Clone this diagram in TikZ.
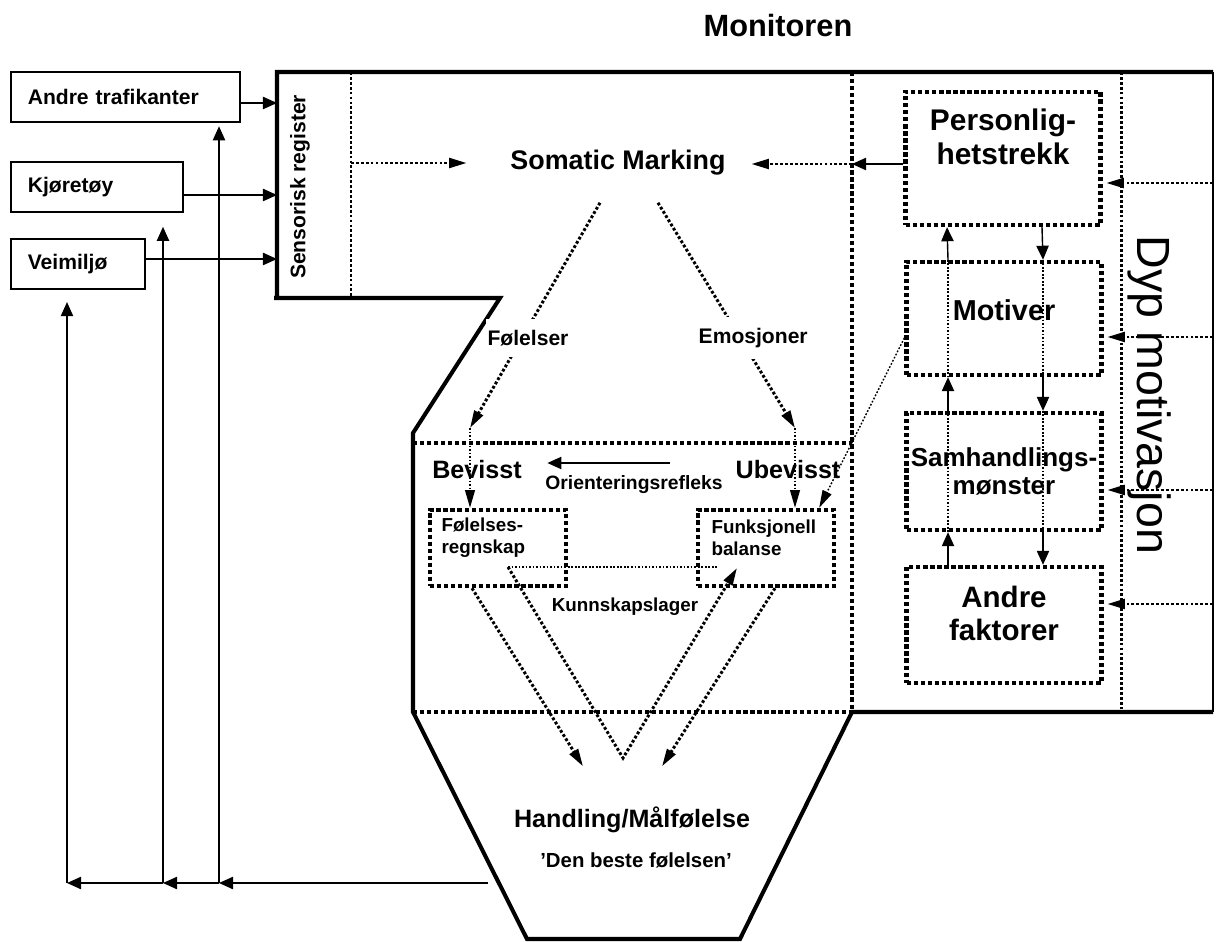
\documentclass[tikz,border=0pt]{standalone}
\usepackage{fontspec}
\setmainfont{Liberation Sans}
\usetikzlibrary{arrows.meta, positioning}

\newcommand\sizept[2]{\fontsize{#1}{#2}\selectfont}

\tikzset{
  outline/.style={line width=2.3pt},
  bigdots/.style={line width=2.5pt, dash pattern=on 2.4pt off 1.6pt},
  middots/.style={line width=1.7pt, dash pattern=on 1.6pt off 1.2pt},
  thindots/.style={line width=1pt, dash pattern=on 1pt off 1pt},
  dotarrow/.style={middots, -{Triangle[length=10pt,width=5.5pt]}},
  thinarrow/.style={thindots, -{Triangle[length=10pt,width=5.5pt]}},
  srcbox/.style={draw, line width=0.9pt, anchor=west, minimum height=1cm,
    inner xsep=0.34cm, align=left, font=\bfseries\sizept{12}{14}},
  dotbox/.style={draw, bigdots, minimum width=3.9cm},
  txt/.style={inner sep=0pt, align=center},
  lblfill/.style={fill=white, inner xsep=1pt, inner ysep=0.22cm,
    font=\bfseries\sizept{12}{14}}
}

\begin{document}
\begin{tikzpicture}[x=0.02cm, y=-0.02cm, >={Triangle[length=8pt,width=7pt]}, line width=0.8pt]
\useasboundingbox (0,0) rectangle (1216,942);

% frame of the model
\draw[outline] (1213,72) -- (277,72) -- (277,298) -- (274,298) -- (500,298) -- (413,433)
  -- (413,712) -- (527,939) -- (740,939) -- (852,712) -- (1213,712);
\draw (1213,72) -- (1213,712);
\draw[middots] (351,72) -- (351,298);
\draw[bigdots] (852,72) -- (852,712);
\draw[bigdots] (413,443) -- (852,443);
\draw[bigdots] (413,712) -- (852,712);
\draw[middots] (1121,72) -- (1121,712);

\node[txt, font=\bfseries\sizept{17.5}{20}] (monitor) at (778,26) {Monitoren};

% inputs
\node[srcbox, text width=3.9cm] (andre) at (10,97) {Andre trafikanter};
\node[srcbox, text width=2.76cm] (kjoretoy) at (10,187) {Kjøretøy};
\node[srcbox, text width=2.0cm] (veimiljo) at (10,264) {Veimiljø};
\node[txt, rotate=90, font=\bfseries\sizept{12}{14}] (sensreg) at (300,187) {Sensorisk register};

\coordinate (in1) at (277,103);
\coordinate (in2) at (277,195);
\coordinate (in3) at (277,259);
\draw[->] (andre.east |- in1) -- (in1);
\draw[->] (kjoretoy.east |- in2) -- (in2);
\draw[->] (veimiljo.east |- in3) -- (in3);

% somatic marking
\node[txt, font=\bfseries\sizept{15.3}{18}] (somatic) at (618,163) {Somatic Marking};
\coordinate (sr-out) at (351,163);
\coordinate (mon-in) at (852,164);
\draw[dotarrow, shorten >=0.86cm] (sr-out) -- (somatic.west);
\draw[dotarrow, shorten >=0.5cm] (mon-in) -- (somatic.east |- mon-in);

\coordinate (fol-in) at (470,428);
\coordinate (emo-in) at (795,428);
\draw[dotarrow] ([xshift=-0.36cm,yshift=-0.53cm]somatic.south)
  -- node[pos=0.6, lblfill, xshift=0.12cm] (folelser) {Følelser} (fol-in);
\draw[dotarrow] ([xshift=0.8cm,yshift=-0.53cm]somatic.south)
  -- node[pos=0.6, lblfill, xshift=0.26cm] (emosjoner) {Emosjoner} (emo-in);

% bevisst / ubevisst
\node[txt, font=\bfseries\sizept{14.3}{17}] (bevisst) at (477,470) {Bevisst};
\node[txt, font=\bfseries\sizept{14.3}{17}] (ubevisst) at (788,470) {Ubevisst};
\draw[->, shorten <=1.3cm, shorten >=0.5cm] ([yshift=0.14cm]ubevisst.west) -- ([yshift=0.14cm]bevisst.east);
\node[txt, font=\bfseries\sizept{11}{13}] (orient) at (634,485) {Orienteringsrefleks};

\node[dotbox, minimum width=2.72cm, minimum height=1.52cm] (folregn) at (498,548) {};
\node[dotbox, minimum width=2.72cm, minimum height=1.52cm] (funk) at (766,548) {};
\node[txt, anchor=west, align=left, font=\bfseries\sizept{10.7}{12.5}] (folregn-t)
  at ([xshift=0.26cm,yshift=0.2cm]folregn.west) {Følelses-\\regnskap};
\node[txt, anchor=west, align=left, font=\bfseries\sizept{10.7}{12.5}] (funk-t)
  at ([xshift=0.3cm,yshift=0.2cm]funk.west) {Funksjonell\\balanse};

\draw[thinarrow] (fol-in) -- (fol-in |- folregn.north);
\draw[thinarrow] (emo-in) -- (emo-in |- funk.north);

% kunnskapslager
\coordinate (kl-a) at (508,567);
\coordinate (kl-b) at (718,567);
\coordinate (kl-v) at (623,758);
\coordinate (kl-c) at (737,568);
\draw[thindots, line width=1.2pt] (kl-a) -- (kl-b);
\draw[dotarrow] (kl-a) -- (kl-v) -- (kl-c);
\node[txt, font=\bfseries\sizept{10.7}{12.5}] (kunnskap) at (625,607) {Kunnskapslager};

% handling
\node[txt, font=\bfseries\sizept{14.3}{17}] (handling) at (632,820) {Handling/Målfølelse};
\node[txt, font=\bfseries\sizept{11.6}{14}] (beste) at (636,860) {’Den beste følelsen’};
\draw[dotarrow] ([xshift=-0.52cm]folregn.south) -- ([xshift=-0.98cm,yshift=0.8cm]handling.north);
\draw[dotarrow] ([xshift=0.18cm]funk.south) -- ([xshift=0.6cm,yshift=0.8cm]handling.north);

% deep motivation
\node[dotbox, minimum height=2.66cm] (pers) at (1003,158.5) {};
\node[dotbox, minimum height=2.26cm] (motiv) at (1004,318.5) {};
\node[dotbox, minimum height=2.34cm] (samh) at (1004,471.5) {};
\node[dotbox, minimum height=2.32cm] (andref) at (1004,625) {};
\node[txt, font=\bfseries\sizept{17}{19}] (pers-t) at ([yshift=0.43cm]pers.center) {Personlig-\\hetstrekk};
\node[txt, font=\bfseries\sizept{16.4}{18}] (motiv-t) at ([yshift=0.17cm]motiv.center) {Motiver};
\node[txt, font=\bfseries\sizept{14.8}{16}] (samh-t) at (samh.center) {Samhandlings-\\mønster};
\node[txt, font=\bfseries\sizept{16.8}{19}] (andref-t) at ([yshift=0.23cm]andref.center) {Andre\\faktorer};
\node[txt, rotate=-90, font=\sizept{26.5}{30}] (dyp) at (1150,395) {Dyp motivasjon};

\draw[->] (pers.west |- mon-in) -- (mon-in);

\draw[thindots] ([xshift=-1.12cm]motiv.north) -- ([xshift=-1.12cm]motiv.south);
\draw[thindots] ([xshift=0.78cm]motiv.north) -- ([xshift=0.78cm]motiv.south);
\draw[thindots] ([xshift=-1.12cm]samh.north) -- ([xshift=-1.12cm]samh.south);
\draw[thindots] ([xshift=0.78cm]samh.north) -- ([xshift=0.78cm]samh.south);
\path[->]
  ([xshift=-1.12cm]motiv.north) edge ([xshift=-1.12cm]pers.south)
  ([xshift=-1.12cm]samh.north) edge ([xshift=-1.12cm]motiv.south)
  ([xshift=-1.12cm]andref.north) edge ([xshift=-1.12cm]samh.south)
  ([xshift=0.78cm]pers.south) edge ([xshift=0.78cm]motiv.north)
  ([xshift=0.78cm]motiv.south) edge ([xshift=0.78cm]samh.north)
  ([xshift=0.78cm]samh.south) edge ([xshift=0.78cm]andref.north);

\coordinate (dm1) at (1213,183);
\coordinate (dm2) at (1213,337);
\coordinate (dm3) at (1213,490);
\coordinate (dm4) at (1213,604);
\draw[dotarrow, shorten >=2pt] (dm1) -- (pers.east |- dm1);
\draw[dotarrow, shorten >=2pt] (dm2) -- (motiv.east |- dm2);
\draw[dotarrow, shorten >=2pt] (dm3) -- (samh.east |- dm3);
\draw[dotarrow, shorten >=2pt] (dm4) -- (andref.east |- dm4);

\draw[thinarrow, line width=0.8pt] ([yshift=-0.39cm]motiv.west) -- ([xshift=-0.34cm]funk.north east);

% feedback to the inputs
\coordinate (fb0) at (488,883);
\coordinate (fb1) at (219,883);
\coordinate (fb2) at (163,883);
\coordinate (fb3) at (67,883);
\path[->]
  (fb0) edge (fb1)
  (fb1) edge (fb2)
  (fb2) edge (fb3);
\draw[->, shorten >=2pt] (fb1) -- (fb1 |- andre.south);
\draw[->, shorten >=8pt] (fb2) -- (fb2 |- kjoretoy.south);
\draw[->, shorten >=7pt] (fb3) -- (fb3 |- veimiljo.south);
\end{tikzpicture}
\end{document}
